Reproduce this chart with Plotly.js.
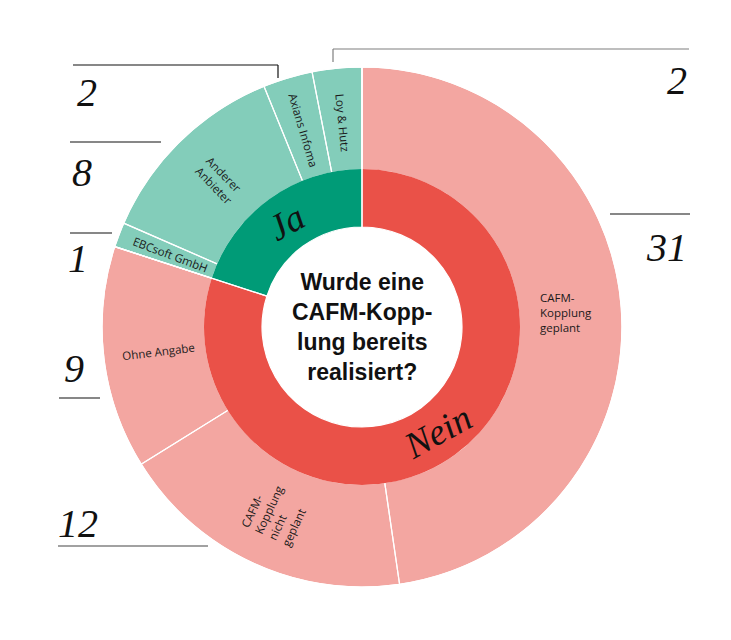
<!DOCTYPE html>
<html>
<head>
<meta charset="utf-8">
<script src="https://cdn.plot.ly/plotly-3.0.1.min.js"></script>
<style>html,body{margin:0;padding:0;background:#fff;}#chart{width:731px;height:640px;}</style>
</head>
<body>
<div id="chart"></div>
<script>
// ---- data ----
const groupLabels = ['Nein', 'Ja'];
const outerLabels = ['CAFM-Kopplung geplant', 'CAFM-Kopplung nicht geplant', 'Ohne Angabe', 'EBCsoft GmbH', 'Anderer Anbieter', 'Axians Infoma', 'Loy & Hutz'];
const outerText = ['CAFM-<br>Kopplung<br>geplant', 'CAFM-<br>Kopplung<br>nicht<br>geplant', 'Ohne Angabe', 'EBCsoft GmbH', 'Anderer<br>Anbieter', 'Axians Infoma', 'Loy & Hutz'];
const outerValues = [31, 12, 9, 1, 8, 2, 2];
const outerGroup = ['Nein', 'Nein', 'Nein', 'Ja', 'Ja', 'Ja', 'Ja'];
const centerTitle = 'Wurde eine<br>CAFM-Kopp-<br>lung bereits<br>realisiert?';

// ---- derived ----
const groupValues = groupLabels.map(g => outerValues.reduce((s, v, i) => s + (outerGroup[i] === g ? v : 0), 0));
const total = outerValues.reduce((a, b) => a + b, 0);
function midAngles(vals) {
  let c = 0;
  return vals.map(v => { const m = (c + v / 2) / total * 360; c += v; return m; });
}

// ---- styling / geometry ----
const W = 731, H = 640;
const CX = 362, CY = 327, R_OUT = 260, R_MID = 158, R_IN = 100;
const innerColors = {Nein: '#EA5148', Ja: '#009B77'};
const outerColors = {Nein: '#F3A6A1', Ja: '#83CDBA'};
const px = x => x / W;
const py = y => 1 - y / H;
function domainFor(r) {
  return {x: [px(CX - r), px(CX + r)], y: [py(CY + r), py(CY - r)]};
}
const common = {type: 'pie', sort: false, direction: 'clockwise', rotation: 0, textinfo: 'none', showlegend: false};

const outerPie = Object.assign({}, common, {
  labels: outerLabels, values: outerValues,
  hole: R_MID / R_OUT, domain: domainFor(R_OUT),
  marker: {colors: outerGroup.map(g => outerColors[g]), line: {width: 0}},
  hoverinfo: 'label+value'
});
// white separators between all outer slices (inner part hidden by inner ring)
const outerSeparators = Object.assign({}, common, {
  labels: outerLabels, values: outerValues,
  hole: R_IN / R_OUT, domain: domainFor(R_OUT),
  marker: {colors: outerLabels.map(() => 'rgba(0,0,0,0)'), line: {color: '#ffffff', width: 1.2}},
  hoverinfo: 'skip'
});
const innerPie = Object.assign({}, common, {
  labels: groupLabels, values: groupValues,
  hole: R_IN / R_MID, domain: domainFor(R_MID),
  marker: {colors: groupLabels.map(g => innerColors[g]), line: {width: 0}},
  hoverinfo: 'label+value'
});
// white separators between Ja and Nein through both rings
const innerSeparators = Object.assign({}, common, {
  labels: groupLabels, values: groupValues,
  hole: R_IN / R_OUT, domain: domainFor(R_OUT),
  marker: {colors: groupLabels.map(() => 'rgba(0,0,0,0)'), line: {color: '#ffffff', width: 1.2}},
  hoverinfo: 'skip'
});

const annotations = [];
// outer slice labels, radial orientation
const R_LABEL = 205;
midAngles(outerValues).forEach((a, i) => {
  const rad = a * Math.PI / 180;
  let ang = a < 180 ? a - 90 : a - 270;
  if (Math.abs(ang) < 6) ang = 0;
  annotations.push({
    xref: 'paper', yref: 'paper', x: px(CX + R_LABEL * Math.sin(rad)), y: py(CY - R_LABEL * Math.cos(rad)),
    xanchor: 'center', yanchor: 'middle', textangle: ang, align: 'left',
    text: outerText[i], showarrow: false,
    font: {family: 'Open Sans', size: 11.5, color: '#1a1a1a'}
  });
});
// inner ring labels, tangential orientation
const R_GLABEL = (R_IN + R_MID) / 2;
midAngles(groupValues).forEach((a, i) => {
  const rad = a * Math.PI / 180;
  const ang = (a > 90 && a < 270) ? a - 180 : (a >= 270 ? a - 360 : a);
  annotations.push({
    xref: 'paper', yref: 'paper', x: px(CX + R_GLABEL * Math.sin(rad)), y: py(CY - R_GLABEL * Math.cos(rad)),
    xanchor: 'center', yanchor: 'middle', textangle: ang * 0.8,
    text: groupLabels[i], showarrow: false,
    font: {family: 'Liberation Serif', style: 'italic', size: 37, color: '#111'}
  });
});

// value callouts (position of each number and its leader line)
const callouts = [
  {i: 6, x: 689, y: 80, xanchor: 'right', line: [[333, 49], [689, 49]], tick: [[333, 49], [333, 62]], color: '#7f7f7f'},
  {i: 5, x: 75, y: 92, xanchor: 'left', line: [[73, 65], [278, 65]], tick: [[278, 65], [278, 78]], color: '#111'},
  {i: 4, x: 70, y: 172, xanchor: 'left', line: [[70, 142], [161, 142]], color: '#111'},
  {i: 3, x: 66, y: 258, xanchor: 'left', line: [[70, 233], [112, 233]], color: '#111'},
  {i: 2, x: 62, y: 368, xanchor: 'left', line: [[59, 398], [100, 398]], color: '#111'},
  {i: 1, x: 56, y: 523, xanchor: 'left', line: [[58, 546], [208, 546]], color: '#444'},
  {i: 0, x: 689, y: 248, xanchor: 'right', line: [[610, 214], [690, 214]], color: '#111'}
];
callouts.forEach(c => annotations.push({
  xref: 'paper', yref: 'paper', x: px(c.x), y: py(c.y), xanchor: c.xanchor, yanchor: 'middle',
  text: String(outerValues[c.i]), showarrow: false,
  font: {family: 'Liberation Serif', style: 'italic', size: 40, color: '#111'}
}));
annotations.push({
  xref: 'paper', yref: 'paper', x: px(CX), y: py(CY), xanchor: 'center', yanchor: 'middle',
  text: '<b>' + centerTitle + '</b>', showarrow: false, align: 'center',
  font: {family: 'Liberation Sans', size: 23, color: '#111'}
});

const shapes = [];
callouts.forEach(c => {
  [c.line, c.tick].filter(Boolean).forEach(seg => {
    shapes.push({type: 'line', xref: 'paper', yref: 'paper',
      x0: px(seg[0][0]), y0: py(seg[0][1]), x1: px(seg[1][0]), y1: py(seg[1][1]),
      line: {color: c.color, width: 1.2}});
  });
});

const layout = {
  width: W, height: H, margin: {l: 0, r: 0, t: 0, b: 0},
  paper_bgcolor: '#ffffff', plot_bgcolor: '#ffffff',
  showlegend: false, annotations: annotations, shapes: shapes
};

Plotly.newPlot('chart', [outerPie, outerSeparators, innerPie, innerSeparators], layout, {displayModeBar: false, staticPlot: true});
</script>
</body>
</html>
